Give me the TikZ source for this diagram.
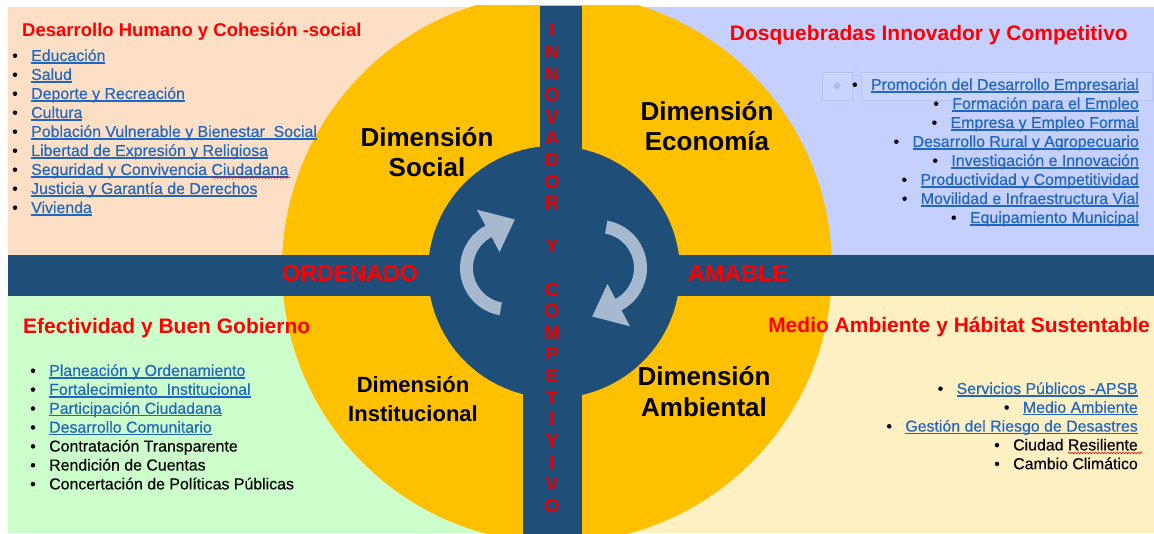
\documentclass[tikz,border=0pt]{standalone}
\usepackage{fontspec}
\setmainfont{Liberation Sans}
\newfontfamily\lstfont{Liberation Sans}[FakeBold=0.35]
\usetikzlibrary{calc,decorations.pathmorphing}
\definecolor{peach}{HTML}{FDDFC5}
\definecolor{lblue}{HTML}{C5D0FE}
\definecolor{lgreen}{HTML}{CCFFCC}
\definecolor{cream}{HTML}{FFF0C3}
\definecolor{gold}{HTML}{FFC000}
\definecolor{navy}{HTML}{1F4E79}
\definecolor{arrowc}{HTML}{A6B9CF}
\definecolor{lnk}{HTML}{2066C3}
\definecolor{vred}{HTML}{E60000}
\definecolor{ghostfill}{HTML}{CAD4FC}
\definecolor{ghostline}{HTML}{B7C4F0}
\definecolor{ghostdot}{HTML}{B4BEE4}
\newcommand\ulk[1]{{\color{lnk}\setbox0\hbox{#1}\rlap{\rule[-2.7pt]{\wd0}{1.3pt}}\box0}}
\tikzset{
  itm/.style={font=\lstfont\fontsize{15.9}{19}\selectfont, inner sep=0pt, anchor=base west},
  ritm/.style={itm, anchor=base east},
  bul/.style={font=\lstfont\fontsize{15.9}{19}\selectfont, inner sep=0pt, anchor=base},
  ttl/.style={font=\fontsize{21}{24}\selectfont\bfseries, text=red, inner sep=0pt},
  dim/.style={font=\fontsize{26}{30}\selectfont\bfseries, inner sep=0pt, anchor=base},
  dimsm/.style={dim, font=\fontsize{22}{26}\selectfont\bfseries},
  vlet/.style={font=\fontsize{19}{21}\selectfont\bfseries, text=vred, inner sep=0pt, anchor=base},
  side/.style={font=\fontsize{23.3}{26}\selectfont\bfseries, text=red, inner sep=0pt, anchor=base west},
  arr/.style={fill=arrowc},
  squig/.style={draw=red, line width=0.6pt, decorate, decoration={snake, segment length=3pt, amplitude=0.8pt}},
  ghost/.style={fill=ghostfill, draw=ghostline, line width=0.6pt}
}
\begin{document}
\begin{tikzpicture}[x=1pt,y=-1pt]
\useasboundingbox (0,0) rectangle (1154,534);
% quadrant backgrounds
\fill[peach] (8,7) rectangle (561,256);
\fill[lblue] (561,7) rectangle (1154,256);
\fill[lgreen] (8,295) rectangle (561,533);
\fill[cream] (561,295) rectangle (1154,533);
% big yellow disc
\begin{scope}
  \clip (8,6) rectangle (1154,533);
  \fill[gold] (557,268) circle[radius=275];
\end{scope}
% bars
\fill[navy] (8,255) rectangle (1154,296);
\fill[navy] (540,6) rectangle (582,200);
\fill[navy] (523,350) rectangle (582,534);
\fill[navy] (554,272) circle[radius=126];
% cycle arrows
\coordinate (C1) at (508,268);
\coordinate (C2) at (599,268);
\fill[arr] ($(C1)+(100:48)$) arc[start angle=100,end angle=242,radius=48]
  -- ($(C1)+(242:66)$) -- ($(C1)+(278:49)$) -- ($(C1)+(242:18)$)
  -- ($(C1)+(242:35)$) arc[start angle=242,end angle=100,radius=35] -- cycle;
\fill[arr] ($(C2)+(280:48)$) arc[start angle=280,end angle=422,radius=48]
  -- ($(C2)+(62:66)$) -- ($(C2)+(98:49)$) -- ($(C2)+(62:18)$)
  -- ($(C2)+(62:35)$) arc[start angle=422,end angle=280,radius=35] -- cycle;
% ghost box behind first economic item
\draw[ghost] (822,72) rectangle (852,100);
\draw[ghost] (861,72) rectangle (1152,100);
\fill[ghostdot] (837,86) circle[radius=3.5];
% titles
\node[ttl, font=\fontsize{18.5}{22}\selectfont\bfseries, anchor=base west] (tTL) at (22,37) {Desarrollo Humano y Cohesión -social};
\node[ttl, anchor=base east] (tTR) at (1128,41) {Dosquebradas Innovador y Competitivo};
\node[ttl, anchor=base west] (tBL) at (23,334) {Efectividad y Buen Gobierno};
\node[ttl, anchor=base east] (tBR) at (1150,333) {Medio Ambiente y Hábitat Sustentable};
% top-left list
\foreach \k/\t in {0/Educación,1/Salud,2/Deporte y Recreación,3/Cultura,4/Población Vulnerable y Bienestar\ \ Social,5/Libertad de Expresión y Religiosa,6/Seguridad y Convivencia Ciudadana,7/Justicia y Garantía de Derechos,8/Vivienda}{
  \node[bul] (bTL\k) at (15,61+19*\k) {\textbullet};
  \node[itm] (iTL\k) at (31,61+19*\k) {\ulk{\t}};
}
% top-right list
\foreach \k/\t in {0/Promoción del Desarrollo Empresarial,1/Formación para el Empleo,2/Empresa y Empleo Formal,3/Desarrollo Rural y Agropecuario,4/Investigación e Innovación,5/Productividad y Competitividad,6/Movilidad e Infraestructura Vial,7/Equipamiento Municipal}{
  \node[ritm] (iTR\k) at (1139,90+19*\k) {\ulk{\t}};
  \node[bul] (bTR\k) at ([xshift=-16pt]iTR\k.base west) {\textbullet};
}
% bottom-left list
\foreach \k/\t in {0/Planeación y Ordenamiento,1/Fortalecimiento\ \ Institucional,2/Participación Ciudadana,3/Desarrollo Comunitario}{
  \node[bul] (bBL\k) at (33,376+18.9*\k) {\textbullet};
  \node[itm] (iBL\k) at (49,376+18.9*\k) {\ulk{\t}};
}
\foreach \k/\t in {4/Contratación Transparente,5/Rendición de Cuentas,6/Concertación de Políticas Públicas}{
  \node[bul] (bBL\k) at (33,376+18.9*\k) {\textbullet};
  \node[itm] (iBL\k) at (49,376+18.9*\k) {\t};
}
% bottom-right list
\foreach \k/\t in {0/Servicios Públicos -APSB,1/Medio Ambiente,2/Gestión del Riesgo de Desastres}{
  \node[ritm] (iBR\k) at (1138,394+18.8*\k) {\ulk{\t}};
  \node[bul] (bBR\k) at ([xshift=-16pt]iBR\k.base west) {\textbullet};
}
\foreach \k/\t in {3/Ciudad Resiliente,4/Cambio Climático}{
  \node[ritm] (iBR\k) at (1138,394+18.8*\k) {\t};
  \node[bul] (bBR\k) at ([xshift=-16pt]iBR\k.base west) {\textbullet};
}
% spell-check squiggles
\draw[squig] (212,177.5) -- (290,177.5);
\draw[squig] (1068,453) -- (1142,453);
% dimension labels
\node[dim] (dS1) at (427,147) {Dimensión};
\node[dim] (dS2) at (427,177) {Social};
\node[dim] (dE1) at (707,121) {Dimensión};
\node[dim] (dE2) at (707,151) {Economía};
\node[dimsm] (dI1) at (413,393) {Dimensión};
\node[dimsm] (dI2) at (413,421) {Institucional};
\node[dim] (dA1) at (704,386) {Dimensión};
\node[dim] (dA2) at (704,417) {Ambiental};
% side words
\node[side] (ord) at (282,282) {ORDENADO};
\node[side] (ama) at (688,282) {AMABLE};
% vertical word
\foreach \k/\l in {0/I,1/N,2/N,3/O,4/V,5/A,6/D,7/O,8/R,10/Y,12/C,13/O,14/M,15/P,16/E,17/T,18/I,19/Y,20/I,21/V,22/O}{
  \node[vlet] (v\k) at (552,37+21.6*\k) {\l};
}
\end{tikzpicture}
\end{document}
